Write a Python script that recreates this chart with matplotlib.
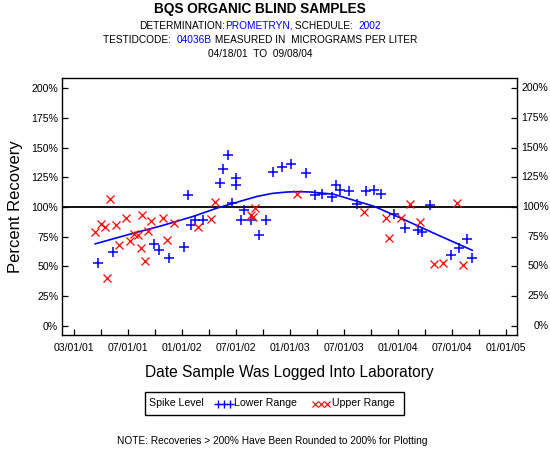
import numpy as np
import pandas as pd
import matplotlib
matplotlib.use('Agg')
import matplotlib.pyplot as plt
from matplotlib.lines import Line2D
from matplotlib.patches import Rectangle
from matplotlib.transforms import blended_transform_factory

plt.rcParams['font.family'] = ['Liberation Sans', 'DejaVu Sans']

# x axis labels (SAS spaces them evenly, so the axis is piecewise in time)
tick_labels = ['03/01/01', '07/01/01', '01/01/02', '07/01/02', '01/01/03',
               '07/01/03', '01/01/04', '07/01/04', '01/01/05']
y_ticks = [0, 25, 50, 75, 100, 125, 150, 175, 200]

# Lower Range spikes (blue +)
lower_dates = ['2001-04-24', '2001-05-29', '2001-09-26', '2001-10-16', '2001-11-19',
               '2002-01-07', '2002-01-22', '2002-02-01', '2002-02-12', '2002-03-11',
               '2002-05-07', '2002-05-18', '2002-06-03', '2002-06-18', '2002-07-02',
               '2002-07-02', '2002-07-17', '2002-07-29', '2002-08-20', '2002-09-19',
               '2002-10-10', '2002-11-03', '2002-12-05', '2003-01-05', '2003-02-25',
               '2003-03-25', '2003-04-17', '2003-05-21', '2003-06-03', '2003-06-18',
               '2003-07-17', '2003-08-13', '2003-09-15', '2003-10-10', '2003-11-04',
               '2003-12-17', '2004-01-25', '2004-03-09', '2004-03-23', '2004-04-19',
               '2004-06-29', '2004-07-26', '2004-08-23', '2004-09-08']
lower_vals = [53.0, 62.0, 68.8, 63.9, 57.1,
              66.4, 110.3, 85.1, 89.2, 89.2,
              120.3, 132.1, 143.9, 103.5, 124.8,
              118.9, 89.2, 97.6, 89.2, 76.5,
              89.2, 129.6, 133.8, 136.3, 129.1,
              110.5, 111.3, 108.2, 118.9, 114.1,
              113.9, 102.3, 113.3, 114.5, 111.0,
              94.1, 82.6, 80.9, 78.9, 102.0,
              59.2, 65.4, 73.0, 56.7]

# Upper Range spikes (red x)
upper_dates = ['2001-04-18', '2001-05-01', '2001-05-09', '2001-05-15', '2001-05-22',
               '2001-06-04', '2001-06-11', '2001-06-27', '2001-07-09', '2001-07-23',
               '2001-08-05', '2001-08-15', '2001-08-19', '2001-08-29', '2001-09-08',
               '2001-09-18', '2001-10-29', '2001-11-12', '2001-12-05', '2002-02-24',
               '2002-04-09', '2002-04-23', '2002-08-20', '2002-08-29', '2002-09-05',
               '2003-01-26', '2003-09-09', '2003-11-22', '2003-12-03', '2004-01-11',
               '2004-02-11', '2004-03-17', '2004-05-03', '2004-06-02', '2004-07-19',
               '2004-08-09']
upper_vals = [78.6, 85.6, 82.9, 40.0, 106.5,
              84.5, 67.7, 90.5, 71.6, 76.9,
              76.1, 65.4, 93.0, 54.4, 79.7,
              88.2, 90.5, 72.1, 86.2, 82.9,
              89.9, 104.0, 93.6, 91.3, 99.2,
              111.0, 95.8, 90.5, 73.8, 90.7,
              102.5, 87.1, 51.9, 52.7, 103.4,
              51.0]

# smoothed trend line
trend_dates = ['2001-04-18', '2001-06-30', '2001-10-20', '2002-02-09', '2002-04-29',
               '2002-07-17', '2002-09-11', '2002-11-01', '2002-12-22', '2003-02-01',
               '2003-03-11', '2003-05-28', '2003-08-04', '2003-10-11', '2004-01-09',
               '2004-05-12', '2004-09-08']
trend_vals = [69.0, 76.6, 84.0, 92.2, 99.2,
              105.0, 109.0, 111.5, 112.7, 113.0,
              112.7, 110.8, 105.7, 100.7, 90.9,
              76.7, 63.6]


def days(d):
    return np.asarray((pd.to_datetime(d) - pd.Timestamp('2000-01-01')).days, dtype=float)


tick_days = days(pd.to_datetime(tick_labels, format='%m/%d/%y'))


def to_pos(d):
    return np.interp(days(d), tick_days, np.arange(len(tick_days)))


W, H = 550, 450
fig = plt.figure(figsize=(W / 100, H / 100), dpi=100)
ax = fig.add_axes([62.3 / W, 1 - 335 / H, (516.7 - 62.3) / W, (335 - 78.3) / H])

ax.axhline(100, color='black', lw=1.3, zorder=1)
ax.plot(to_pos(trend_dates), trend_vals, color='blue', lw=1.2, zorder=2)
ax.plot(to_pos(lower_dates), lower_vals, ls='none', marker='+', color='blue',
        ms=6.5, mew=1.1, zorder=3)
ax.plot(to_pos(upper_dates), upper_vals, ls='none', marker='x', color='red',
        ms=5.5, mew=0.9, zorder=3)

ax.set_xlim(-0.217, 8.2)
ax.set_ylim(-7.9, 208.6)
ax.set_xticks(range(len(tick_labels)))
ax.set_xticklabels(tick_labels, fontsize=7.6)
ax.set_xticks(np.arange(0.5, len(tick_labels) - 1, 1), minor=True)
ax.set_yticks(y_ticks)
ax.set_yticklabels([f'{v}%' for v in y_ticks], fontsize=7.6)
ax.tick_params(axis='x', which='both', direction='in', length=4.5, width=0.9, pad=6)
ax.tick_params(axis='y', direction='in', length=4.5, width=0.9, pad=3, right=True)
for s in ax.spines.values():
    s.set_linewidth(1.0)

tr = blended_transform_factory(ax.transAxes, ax.transData)
for v in y_ticks:
    ax.text(1 + (548.5 - 516.7) / 454.4, v, f'{v}%', transform=tr, ha='right',
            va='center', fontsize=7.6, clip_on=False)

fig.text(16 / W, 1 - 206.7 / H, 'Percent Recovery', rotation=90, ha='center',
         va='center', fontsize=12)
fig.text(289.5 / W, 1 - 372 / H, 'Date Sample Was Logged Into Laboratory',
         ha='center', va='center', fontsize=11.2)

# title block
cx = 260 / W
fig.text(cx, 1 - 9.5 / H, 'BQS ORGANIC BLIND SAMPLES', ha='center', va='center',
         fontsize=9.8, fontweight='bold')

title_lines = [
    ([('DETERMINATION:', 'black'), ('PROMETRYN,', 'blue'), (' SCHEDULE:  ', 'black'),
      ('2002', 'blue')], 25.7),
    ([('TESTIDCODE:  ', 'black'), ('04036B', 'blue'),
      (' MEASURED IN  MICROGRAMS PER LITER', 'black')], 40),
    ([('04/18/01  TO  09/08/04', 'black')], 54),
]
renderer = fig.canvas.get_renderer()
for parts, py in title_lines:
    texts = [fig.text(0, 1 - py / H, s, color=c, ha='left', va='center', fontsize=7.3)
             for s, c in parts]
    widths = [t.get_window_extent(renderer).width for t in texts]
    x = cx * W - sum(widths) / 2
    for t, w in zip(texts, widths):
        t.set_x(x / W)
        x += w

# legend box
fig.add_artist(Rectangle((145.3 / W, 1 - 415 / H), (404.3 - 145.3) / W, (415 - 391.7) / H,
                         transform=fig.transFigure, fill=False, lw=1.0, ec='black'))
ly = 1 - 403.5 / H
fig.text(149 / W, ly, 'Spike Level', ha='left', va='center', fontsize=7.6)
fig.add_artist(Line2D(np.array([217.5, 223.5, 229.5]) / W, [ly] * 3,
                      transform=fig.transFigure, ls='none', marker='+', color='blue',
                      ms=6, mew=1.0))
fig.text(234 / W, ly, 'Lower Range', ha='left', va='center', fontsize=7.6)
fig.add_artist(Line2D(np.array([314.5, 320.5, 326.5]) / W, [ly] * 3,
                      transform=fig.transFigure, ls='none', marker='x', color='red',
                      ms=4.5, mew=0.8))
fig.text(332 / W, ly, 'Upper Range', ha='left', va='center', fontsize=7.6)

fig.text(272 / W, 1 - 441 / H,
         'NOTE: Recoveries > 200% Have Been Rounded to 200% for Plotting',
         ha='center', va='center', fontsize=7.3)

fig.savefig('out.png', dpi=100)
